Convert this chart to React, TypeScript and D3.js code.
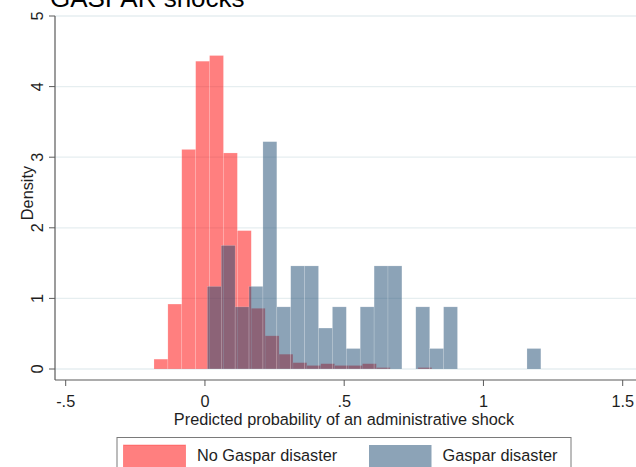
import React from "react";
import * as d3 from "d3";

const yTicks = [0, 1, 2, 3, 4, 5];
const xTicks = [-0.5, 0, 0.5, 1, 1.5];
const xTickLabels = ["-.5", "0", ".5", "1", "1.5"];
const binWidth = 0.0499;
const redStart = -0.183;
const blueStart = 0.0086;
const redDensity = [0.14, 0.92, 3.11, 4.36, 4.44, 3.06, 1.96, 0.86, 0.47, 0.21, 0.09, 0.05, 0.075, 0.05, 0.05, 0.075, 0.02, 0, 0, 0.02];
const blueDensity = [1.17, 1.75, 0.88, 1.17, 3.22, 0.88, 1.46, 1.46, 0.58, 0.88, 0.29, 0.88, 1.46, 1.46, 0, 0.88, 0.29, 0.88, 0, 0, 0, 0, 0, 0.29];
const seriesNames = ["No Gaspar disaster", "Gaspar disaster"];

const FONT = "'Liberation Sans', Arial, sans-serif";

export default function App() {
  const x = d3.scaleLinear().domain([-0.5, 1.5]).range([65.7, 622.7]);
  const y = d3.scaleLinear().domain([0, 5]).range([369, 16]);
  const axisX = 55;
  const axisY = 380;
  const textColor = "#1e1e1e";
  const axisColor = "#5a5a5a";

  const bars = (vals: number[], start: number, fill: string, key: string) =>
    vals.map((v, i) => {
      if (v <= 0) return null;
      const x0 = x(start + i * binWidth);
      const x1 = x(start + (i + 1) * binWidth);
      return (
        <rect
          key={key + i}
          x={x0}
          y={y(v)}
          width={x1 - x0}
          height={y(0) - y(v)}
          fill={fill}
          fillOpacity={0.5}
          stroke="rgba(255,255,255,0.35)"
          strokeWidth={0.5}
        />
      );
    });

  return (
    <svg width={636} height={467} style={{ position: "absolute", left: 0, top: 0, background: "#fff" }}>
      <rect x={0} y={0} width={636} height={467} fill="#fff" />
      <text x={50} y={7} fontFamily={FONT} fontSize={26} fill="#000">GASPAR shocks</text>
      {yTicks.map((t) => (
        <line key={"g" + t} x1={axisX} x2={636} y1={y(t)} y2={y(t)} stroke="#e6eef0" strokeWidth={1.3} />
      ))}
      {bars(redDensity, redStart, "rgb(255,0,0)", "r")}
      {bars(blueDensity, blueStart, "rgb(26,71,111)", "b")}
      <line x1={axisX} x2={axisX} y1={16} y2={axisY} stroke={axisColor} strokeWidth={1.2} />
      <line x1={axisX} x2={636} y1={axisY} y2={axisY} stroke={axisColor} strokeWidth={1.2} />
      {yTicks.map((t) => (
        <g key={"yt" + t}>
          <line x1={axisX - 6} x2={axisX} y1={y(t)} y2={y(t)} stroke={axisColor} strokeWidth={1} />
          <text
            transform={`translate(${43},${y(t)}) rotate(-90)`}
            textAnchor="middle"
            fontFamily={FONT}
            fontSize={16.3}
            fill={textColor}
          >
            {t}
          </text>
        </g>
      ))}
      <text
        transform={`translate(${33},${193}) rotate(-90)`}
        textAnchor="middle"
        fontFamily={FONT}
        fontSize={16.3}
        fill={textColor}
      >
        Density
      </text>
      {xTicks.map((t, i) => (
        <g key={"xt" + t}>
          <line x1={x(t)} x2={x(t)} y1={axisY} y2={axisY + 6} stroke={axisColor} strokeWidth={1} />
          <text x={x(t)} y={406.5} textAnchor="middle" fontFamily={FONT} fontSize={16.3} fill={textColor}>
            {xTickLabels[i]}
          </text>
        </g>
      ))}
      <text x={344} y={425} textAnchor="middle" fontFamily={FONT} fontSize={16.3} fill={textColor}>
        Predicted probability of an administrative shock
      </text>
      <rect x={117} y={437.5} width={454} height={50} fill="#fff" stroke="#7a7a7a" strokeWidth={1} />
      <rect x={123.5} y={445} width={62} height={30} fill="rgb(255,0,0)" fillOpacity={0.5} stroke="rgba(255,0,0,0.3)" />
      <text x={197} y={460.5} fontFamily={FONT} fontSize={16.3} fill={textColor}>{seriesNames[0]}</text>
      <rect x={369} y={445} width={62.5} height={30} fill="rgb(26,71,111)" fillOpacity={0.5} />
      <text x={442.5} y={460.5} fontFamily={FONT} fontSize={16.3} fill={textColor}>{seriesNames[1]}</text>
    </svg>
  );
}
